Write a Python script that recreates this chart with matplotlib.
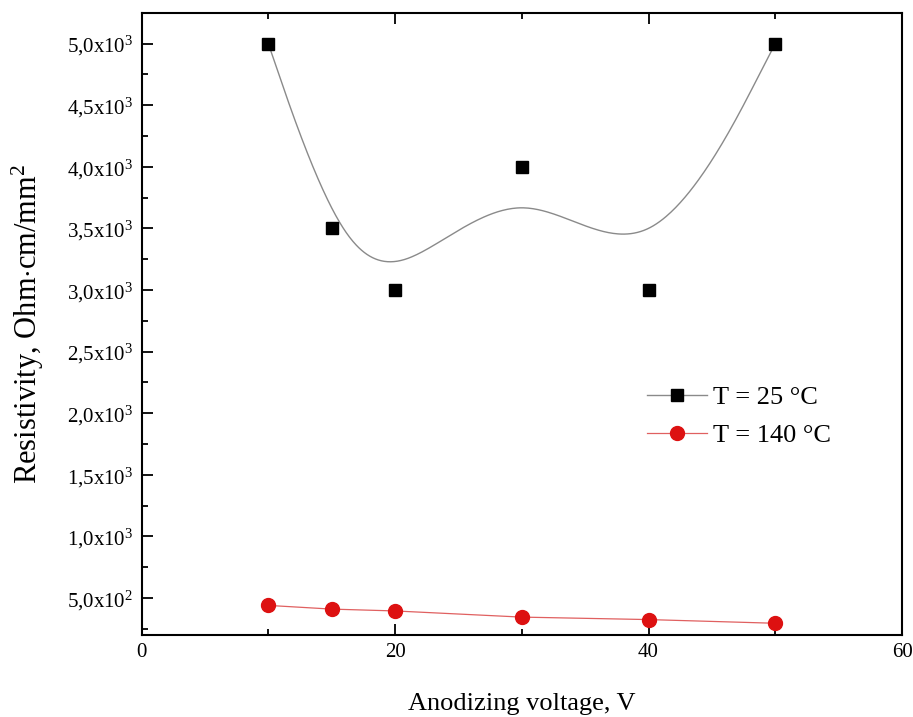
import numpy as np
import matplotlib
matplotlib.use("Agg")
import matplotlib.pyplot as plt
from matplotlib.ticker import FixedLocator, MultipleLocator

plt.rcParams['font.family'] = ['Liberation Serif', 'DejaVu Serif']
plt.rcParams['mathtext.fontset'] = 'custom'
plt.rcParams['mathtext.rm'] = 'Liberation Serif'
plt.rcParams['mathtext.it'] = 'Liberation Serif:italic'
plt.rcParams['mathtext.bf'] = 'Liberation Serif:bold'

# Data
voltage = [10, 15, 20, 30, 40, 50]
res_25 = [5000, 3500, 3000, 4000, 3000, 5000]
res_140 = [440, 410, 395, 345, 325, 295]

ytick_vals = [500, 1000, 1500, 2000, 2500, 3000, 3500, 4000, 4500, 5000]
ytick_labels = [r'5,0x10$^2$', r'1,0x10$^3$', r'1,5x10$^3$', r'2,0x10$^3$', r'2,5x10$^3$',
                r'3,0x10$^3$', r'3,5x10$^3$', r'4,0x10$^3$', r'4,5x10$^3$', r'5,0x10$^3$']
xtick_vals = [0, 20, 40, 60]


def bspline(cx, cy, per_seg=80):
    """Uniform cubic B-spline with tripled end control points (passes through ends)."""
    px = np.concatenate([[cx[0]] * 2, cx, [cx[-1]] * 2]).astype(float)
    py = np.concatenate([[cy[0]] * 2, cy, [cy[-1]] * 2]).astype(float)
    M = np.array([[-1, 3, -3, 1], [3, -6, 3, 0], [-3, 0, 3, 0], [1, 4, 1, 0]]) / 6.0
    xs, ys = [], []
    u = np.linspace(0, 1, per_seg)
    U = np.stack([u ** 3, u ** 2, u, np.ones_like(u)], axis=1)
    for i in range(len(px) - 3):
        G = np.stack([px[i:i + 4], py[i:i + 4]], axis=1)
        P = U @ M @ G
        xs.append(P[:, 0])
        ys.append(P[:, 1])
    return np.concatenate(xs), np.concatenate(ys)


fig = plt.figure(figsize=(9.13, 7.17), dpi=100)
ax = fig.add_axes([0.155, 0.1144, 0.833, 0.867])

sx, sy = bspline(voltage, res_25)
ax.plot(sx, sy, color='#8a8a8a', lw=1.0, zorder=2)
ax.plot(voltage, res_25, ls='none', marker='s', ms=8, color='black', zorder=3)
ax.plot(voltage, res_140, color='#e06060', lw=0.9, marker='o', ms=10,
        mfc='#dd1111', mec='#dd1111', zorder=3)

# legend proxies
h1, = ax.plot([], [], color='#8a8a8a', lw=1.0, marker='s', ms=8, mfc='black', mec='black')
h2, = ax.plot([], [], color='#e06060', lw=0.9, marker='o', ms=10, mfc='#dd1111', mec='#dd1111')
ax.legend([h1, h2], ['T = 25 °C', 'T = 140 °C'], frameon=False, fontsize=19,
          loc='upper left', bbox_to_anchor=(0.6505, 0.4177), handlelength=2.3,
          handletextpad=0.2, labelspacing=0.55, borderaxespad=0)

ax.set_xlim(0, 60)
ax.set_ylim(200, 5245)
ax.xaxis.set_major_locator(FixedLocator(xtick_vals))
ax.xaxis.set_minor_locator(MultipleLocator(10))
ax.yaxis.set_major_locator(FixedLocator(ytick_vals))
ax.set_yticklabels(ytick_labels)
ax.yaxis.set_minor_locator(FixedLocator([250 + 500 * i for i in range(10)]))

ax.tick_params(which='both', direction='in', top=True, right=False, labelsize=15, pad=6)
ax.tick_params(which='major', length=8, width=1.3)
ax.tick_params(which='minor', length=4, width=1.3)
for s in ax.spines.values():
    s.set_linewidth(1.5)

ax.set_xlabel('Anodizing voltage, V', fontsize=19, labelpad=22)
ax.set_ylabel(r'Resistivity, Ohm$\cdot$cm/mm$^2$', fontsize=22, labelpad=15)

fig.savefig('out.png', dpi=100)
